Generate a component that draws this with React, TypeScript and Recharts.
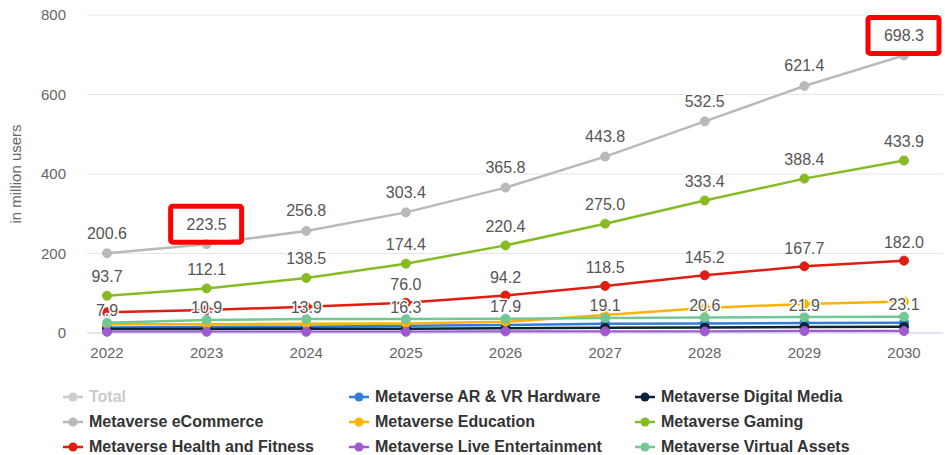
import { LineChart, Line, XAxis, YAxis, CartesianGrid, LabelList } from "recharts";

const YEARS = ["2022", "2023", "2024", "2025", "2026", "2027", "2028", "2029", "2030"];

const ECOMMERCE = [200.6, 223.5, 256.8, 303.4, 365.8, 443.8, 532.5, 621.4, 698.3];
const GAMING = [93.7, 112.1, 138.5, 174.4, 220.4, 275.0, 333.4, 388.4, 433.9];
const HEALTH = [52, 58, 66, 76.0, 94.2, 118.5, 145.2, 167.7, 182.0];
const EDUCATION = [22, 22, 23, 24, 28, 45, 63, 73, 79];
const AR_VR = [14, 15, 16, 18, 20, 23, 24, 25, 26];
const DIGITAL_MEDIA = [10, 10, 11, 11, 12, 13, 14, 15, 16];
const LIVE_ENT = [3, 3, 3, 3, 4, 4, 4, 5, 5];
const VIRTUAL_ASSETS = [26, 33, 35, 35, 36, 38, 39, 40, 41];

// labels as printed on the chart (some hidden by overlap)
const HEALTH_LABELS = [null, null, null, 76.0, 94.2, 118.5, 145.2, 167.7, 182.0];
const VIRTUAL_LABELS = [7.9, 10.9, 13.9, 16.3, 17.9, 19.1, 20.6, 21.9, 23.1];
const HIGHLIGHT_YEARS = ["2023", "2030"];

const Y_TICKS = [0, 200, 400, 600, 800];

const FONT = "'Liberation Sans', Arial, Helvetica, sans-serif";

const data = YEARS.map((year, i) => ({
  year,
  ecommerce: ECOMMERCE[i],
  gaming: GAMING[i],
  health: HEALTH[i],
  education: EDUCATION[i],
  arvr: AR_VR[i],
  digital: DIGITAL_MEDIA[i],
  live: LIVE_ENT[i],
  virtual: VIRTUAL_ASSETS[i],
}));

const SERIES = [
  { key: "arvr", name: "Metaverse AR & VR Hardware", color: "#2f7ed8" },
  { key: "digital", name: "Metaverse Digital Media", color: "#0d233a" },
  { key: "ecommerce", name: "Metaverse eCommerce", color: "#b9b9b9" },
  { key: "education", name: "Metaverse Education", color: "#fdb300" },
  { key: "gaming", name: "Metaverse Gaming", color: "#86bb24" },
  { key: "health", name: "Metaverse Health and Fitness", color: "#de1e10" },
  { key: "live", name: "Metaverse Live Entertainment", color: "#a05ad0" },
  { key: "virtual", name: "Metaverse Virtual Assets", color: "#72c795" },
];

const LEGEND = [
  { name: "Total", color: "#cccccc", hidden: true },
  ...SERIES.map((s) => ({ name: s.name, color: s.color, hidden: false })),
];

function makeLabel(labels: (number | null)[] | null, lift: number, boxed: boolean) {
  // eslint-disable-next-line @typescript-eslint/no-explicit-any
  return function ValueLabel(props: any) {
    const { x, y, value, index } = props;
    const v = labels ? labels[index] : value;
    if (v == null) return null;
    const cy = y - lift;
    const showBox = boxed && HIGHLIGHT_YEARS.includes(YEARS[index]);
    return (
      <g>
        {showBox && (
          <rect x={x - 36} y={cy - 18} width={71} height={36} rx={2}
            fill="none" stroke="#ff0000" strokeWidth={5} />
        )}
        <text x={x} y={cy} textAnchor="middle" dominantBaseline="central"
          fontSize={16} fontFamily={FONT} fill="#555"
          stroke="#fff" strokeWidth={3} paintOrder="stroke" strokeLinejoin="round">
          {Number(v).toFixed(1)}
        </text>
      </g>
    );
  };
}

export default function App() {
  return (
    <div style={{ position: "absolute", left: 0, top: 0, width: 945, height: 455, background: "#fff", fontFamily: FONT }}>
      <LineChart width={945} height={365} data={data} margin={{ top: 15, right: 2, left: 0, bottom: 0 }}>
        <CartesianGrid vertical={false} stroke="#e6e6e6" />
        <XAxis
          dataKey="year"
          padding={{ left: 20, right: 39 }}
          height={32}
          tickLine={false}
          tickSize={0}
          tickMargin={14}
          axisLine={{ stroke: "#ccd6eb" }}
          tick={{ fill: "#666", fontSize: 15, fontFamily: FONT }}
        />
        <YAxis
          width={87}
          domain={[0, 800]}
          ticks={Y_TICKS}
          axisLine={false}
          tickLine={false}
          tickSize={0}
          tickMargin={21}
          tick={{ fill: "#666", fontSize: 15, fontFamily: FONT }}
          label={{ value: "in million users", angle: -90, position: "center", dx: -28, fill: "#666", fontSize: 15, fontFamily: FONT }}
        />
        {SERIES.map((s) => (
          <Line
            key={s.key}
            dataKey={s.key}
            name={s.name}
            stroke={s.color}
            strokeWidth={2.5}
            dot={{ r: 4.5, fill: s.color, stroke: s.color, strokeWidth: 1 }}
            activeDot={false}
            isAnimationActive={false}
          >
            {s.key === "ecommerce" && <LabelList dataKey="ecommerce" content={makeLabel(null, 20, true)} />}
            {s.key === "gaming" && <LabelList dataKey="gaming" content={makeLabel(null, 19, false)} />}
            {s.key === "health" && <LabelList dataKey="health" content={makeLabel(HEALTH_LABELS, 18, false)} />}
            {s.key === "virtual" && <LabelList dataKey="virtual" content={makeLabel(VIRTUAL_LABELS, 12, false)} />}
          </Line>
        ))}
      </LineChart>
      <div style={{ position: "absolute", left: 62, top: 386, width: 870, display: "grid", gridTemplateColumns: "286px 286px 286px", rowGap: 4 }}>
        {LEGEND.map((item) => (
          <div key={item.name} style={{ display: "flex", alignItems: "center", height: 21 }}>
            <svg width={27} height={12} style={{ flexShrink: 0 }}>
              <line x1={1} y1={6} x2={21} y2={6} stroke={item.color} strokeWidth={2.5} />
              <circle cx={11} cy={6} r={4.5} fill={item.color} />
            </svg>
            <span style={{ fontSize: 16, fontWeight: "bold", color: item.hidden ? "#cccccc" : "#333", whiteSpace: "nowrap" }}>
              {item.name}
            </span>
          </div>
        ))}
      </div>
    </div>
  );
}
